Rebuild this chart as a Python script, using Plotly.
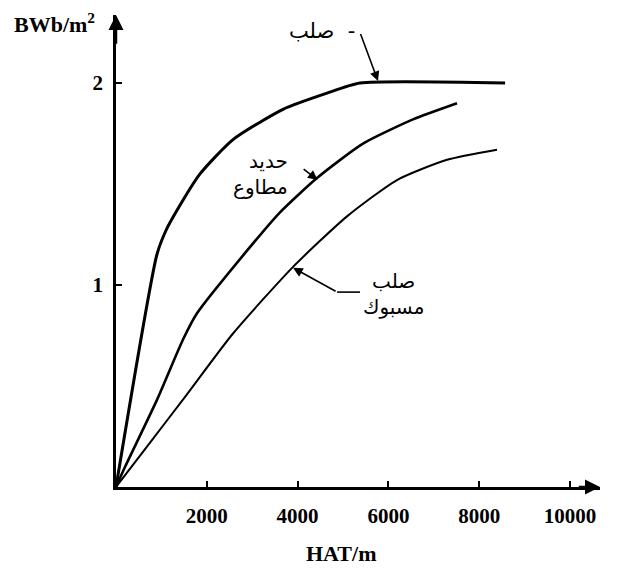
import plotly.graph_objects as go

# B-H curves (H in AT/m, B in Wb/m2)
steel_h = [0, 900, 1100, 1344, 1850, 2577, 3678, 4648, 5374, 8570]
steel_b = [0, 1.15, 1.27, 1.37, 1.55, 1.72, 1.87, 1.95, 2.0, 2.0]

iron_h = [0, 200, 900, 1476, 1784, 2885, 3612, 4427, 5440, 6542, 7511]
iron_b = [0, 0.10, 0.43, 0.73, 0.86, 1.17, 1.36, 1.53, 1.70, 1.82, 1.90]

cast_h = [0, 750, 1500, 2577, 3900, 5088, 6189, 7291, 8392]
cast_b = [0, 0.22, 0.44, 0.76, 1.09, 1.34, 1.52, 1.62, 1.67]

x_ticks = [2000, 4000, 6000, 8000, 10000]
y_ticks = [1, 2]

X_MAX = 10660
Y_MAX = 2.337

serif = "Liberation Serif"
arabic = "DejaVu Sans"
arrow = dict(showarrow=True, arrowhead=2, arrowsize=1.2, arrowwidth=1.6, arrowcolor="black",
             xref="x", yref="y", axref="x", ayref="y", text="")

fig = go.Figure()
fig.add_trace(go.Scatter(x=steel_h, y=steel_b, mode="lines",
                         line=dict(color="black", width=3, shape="spline", smoothing=0.6)))
fig.add_trace(go.Scatter(x=iron_h, y=iron_b, mode="lines",
                         line=dict(color="black", width=2.6, shape="spline", smoothing=0.6)))
fig.add_trace(go.Scatter(x=cast_h, y=cast_b, mode="lines",
                         line=dict(color="black", width=2, shape="spline", smoothing=0.6)))

ann = []
# axis arrow heads
ann.append(dict(arrow, x=X_MAX, y=0, ax=X_MAX - 500, ay=0, arrowwidth=2.5))
ann.append(dict(arrow, x=0, y=Y_MAX, ax=0, ay=Y_MAX - 0.15, arrowwidth=2.5))

# axis titles
ann.append(dict(x=0, y=1, xref="paper", yref="paper", xanchor="right", yanchor="middle",
                xshift=-19, yshift=-8, showarrow=False, text="<b>BWb/m<sup>2</sup></b>",
                font=dict(family=serif, size=22, color="black")))
ann.append(dict(x=0.464, y=0, xref="paper", yref="paper", xanchor="center", yanchor="middle",
                yshift=-66, showarrow=False, text="<b>HAT/m</b>",
                font=dict(family=serif, size=22, color="black")))

# curve labels (Arabic)
ann.append(dict(x=5300, y=2.26, xref="x", yref="y", xanchor="right", yanchor="middle",
                showarrow=False, text="صلب  -", font=dict(family=arabic, size=21, color="black")))
ann.append(dict(arrow, x=5771, y=2.01, ax=5374, ay=2.25))

ann.append(dict(x=3830, y=1.55, xref="x", yref="y", xanchor="right", yanchor="middle",
                showarrow=False, align="right", text="حديد<br>مطاوع",
                font=dict(family=arabic, size=20, color="black")))
ann.append(dict(arrow, x=4440, y=1.52, ax=4100, ay=1.58))

ann.append(dict(x=6120, y=0.955, xref="x", yref="y", xanchor="center", yanchor="middle",
                showarrow=False, align="center", text="صلب<br>مسبوك",
                font=dict(family=arabic, size=20, color="black")))
ann.append(dict(arrow, x=3899, y=1.085, ax=4870, ay=0.965))

fig.add_shape(type="line", x0=4870, y0=0.965, x1=5374, y1=0.965,
              line=dict(color="black", width=1.6))

fig.update_layout(
    width=642, height=568,
    margin=dict(l=108, r=50, t=7, b=89),
    paper_bgcolor="white", plot_bgcolor="white",
    showlegend=False,
    annotations=ann,
    xaxis=dict(range=[0, X_MAX], tickvals=x_ticks, ticktext=["<b>%d</b>" % v for v in x_ticks],
               showgrid=False, zeroline=False, showline=True, linecolor="black", linewidth=2.5,
               ticks="inside", ticklen=6, tickwidth=2, tickcolor="black", ticklabelstandoff=8,
               tickfont=dict(family=serif, size=21, color="black")),
    yaxis=dict(range=[0, Y_MAX], tickvals=y_ticks, ticktext=["<b>%d</b>" % v for v in y_ticks],
               showgrid=False, zeroline=False, showline=True, linecolor="black", linewidth=2.5,
               ticks="inside", ticklen=6, tickwidth=2, tickcolor="black", ticklabelstandoff=6,
               tickfont=dict(family=serif, size=21, color="black")),
)

fig.write_html("out.html")
